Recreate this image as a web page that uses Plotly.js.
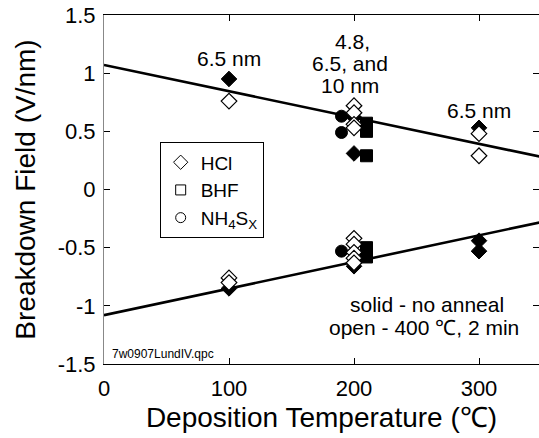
<!DOCTYPE html>
<html>
<head>
<meta charset="utf-8">
<script src="https://cdn.plot.ly/plotly-3.0.1.min.js"></script>
<style>html,body{margin:0;padding:0;background:#fff}#chart{width:539px;height:438px}</style>
</head>
<body>
<div id="chart"></div>
<script>
// Fit lines
var fitX = [0, 350];
var upperFitY = [1.07, 0.28];
var lowerFitY = [-1.08, -0.28];

// HCl, solid (no anneal)
var hclSolidX = [100, 100, 200, 200, 200, 300, 300, 300];
var hclSolidY = [0.95, -0.85, 0.62, 0.31, -0.66, 0.53, -0.44, -0.53];
// HCl, open (400 C, 2 min)
var hclOpenX = [100, 100, 100, 200, 200, 200, 200, 200, 200, 200, 200, 200, 300, 300];
var hclOpenY = [0.76, -0.76, -0.80, 0.72, 0.66, 0.56, 0.53, -0.42, -0.47, -0.54, -0.59, -0.63, 0.48, 0.29];
// BHF, solid
var bhfSolidX = [210, 210, 210, 210, 210];
var bhfSolidY = [0.57, 0.50, 0.29, -0.50, -0.58];
// NH4Sx, solid
var nhSolidX = [190, 190, 190];
var nhSolidY = [0.63, 0.49, -0.53];

var legendNames = ['HCl', 'BHF', 'NH<sub>4</sub>S<sub>X</sub>'];
var xTicks = [0, 100, 200, 300];
var yTicks = [-1.5, -1, -0.5, 0, 0.5, 1, 1.5];
var yTickText = ['-1.5', '-1', '-0.5', '0', '0.5', '1', '1.5'];

var font = 'Liberation Sans, Arial, Helvetica, sans-serif';

var traces = [
  {x: fitX, y: upperFitY, mode: 'lines', line: {color: '#000', width: 2.6}, showlegend: false, hoverinfo: 'skip'},
  {x: fitX, y: lowerFitY, mode: 'lines', line: {color: '#000', width: 2.6}, showlegend: false, hoverinfo: 'skip'},
  {x: hclSolidX, y: hclSolidY, mode: 'markers', marker: {symbol: 'diamond', size: 12, color: '#000', line: {color: '#000', width: 1}}, showlegend: false},
  {x: bhfSolidX, y: bhfSolidY, mode: 'markers', marker: {symbol: 'square', size: 12, color: '#000', line: {color: '#000', width: 1}}, showlegend: false},
  {x: nhSolidX, y: nhSolidY, mode: 'markers', marker: {symbol: 'circle', size: 12, color: '#000', line: {color: '#000', width: 1}}, showlegend: false},
  {x: hclOpenX, y: hclOpenY, mode: 'markers', marker: {symbol: 'diamond', size: 12, color: '#fff', line: {color: '#000', width: 1.2}}, showlegend: false},
  {x: [null], y: [null], name: legendNames[0], mode: 'markers', marker: {symbol: 'diamond-open', size: 11, color: '#000', line: {width: 1}}},
  {x: [null], y: [null], name: legendNames[1], mode: 'markers', marker: {symbol: 'square-open', size: 10, color: '#000', line: {width: 1}}},
  {x: [null], y: [null], name: legendNames[2], mode: 'markers', marker: {symbol: 'circle-open', size: 10, color: '#000', line: {width: 1}}}
];

var axisCommon = {
  showgrid: false, zeroline: false, showline: true, linewidth: 1,
  mirror: 'ticks', ticks: 'inside', ticklen: 6, tickcolor: '#000', tickwidth: 1,
  tickfont: {family: font, size: 22, color: '#000'}
};

var layout = {
  width: 539, height: 438,
  margin: {l: 104, r: 0, t: 15, b: 74},
  paper_bgcolor: '#fff', plot_bgcolor: '#fff',
  font: {family: font, color: '#000'},
  xaxis: Object.assign({}, axisCommon, {
    range: [0, 348], tickvals: xTicks, linecolor: '#000', ticklabelstandoff: 5,
    title: {text: 'Deposition Temperature (℃)', font: {family: font, size: 28, color: '#000'}, standoff: 6}
  }),
  yaxis: Object.assign({}, axisCommon, {
    range: [-1.5, 1.5], tickvals: yTicks, ticktext: yTickText, linecolor: '#888',
    ticklabelstandoff: 3,
    title: {text: 'Breakdown Field (V/nm)', font: {family: font, size: 28, color: '#000'}, standoff: 13}
  }),
  showlegend: true,
  legend: {
    x: 0.128, y: 0.635, xanchor: 'left', yanchor: 'top',
    bgcolor: '#fff', bordercolor: '#000', borderwidth: 1,
    font: {family: font, size: 19, color: '#000'},
    itemwidth: 30, tracegroupgap: 0
  },
  annotations: [
    {x: 100, y: 1.13, xref: 'x', yref: 'y', text: '6.5 nm', showarrow: false, font: {family: font, size: 21}},
    {x: 199, y: 1.27, xref: 'x', yref: 'y', text: '4.8,', showarrow: false, font: {family: font, size: 21}},
    {x: 197, y: 1.08, xref: 'x', yref: 'y', text: '6.5, and', showarrow: false, font: {family: font, size: 21}},
    {x: 197, y: 0.89, xref: 'x', yref: 'y', text: '10 nm', showarrow: false, font: {family: font, size: 21}},
    {x: 300, y: 0.68, xref: 'x', yref: 'y', text: '6.5 nm', showarrow: false, font: {family: font, size: 21}},
    {x: 258, y: -0.99, xref: 'x', yref: 'y', text: 'solid - no anneal', showarrow: false, font: {family: font, size: 21}},
    {x: 256, y: -1.19, xref: 'x', yref: 'y', text: 'open - 400 ℃, 2 min', showarrow: false, font: {family: font, size: 21}},
    {x: 0.013, y: -1.41, xref: 'paper', yref: 'y', xanchor: 'left', text: '7w0907LundIV.qpc', showarrow: false, font: {family: font, size: 12}}
  ]
};

Plotly.newPlot('chart', traces, layout, {displayModeBar: false, staticPlot: true});
</script>
</body>
</html>
